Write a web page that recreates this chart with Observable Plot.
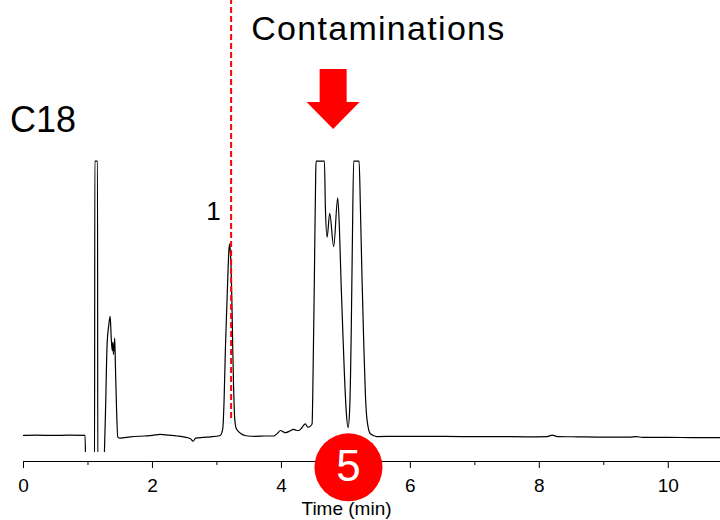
<!DOCTYPE html>
<html>
<head>
<meta charset="utf-8">
<script src="https://cdn.jsdelivr.net/npm/d3@7"></script>
<script src="https://cdn.jsdelivr.net/npm/@observablehq/plot@0.6"></script>
<style>
  html, body { margin: 0; padding: 0; background: #fff; }
</style>
</head>
<body>
<div id="chart"></div>
<script>
// C18 chromatogram: retention time (min) against detector signal (relative units).
// A reading of 99.8 is detector saturation; -15 is below the recorded range.
const time = [
  0.00, 0.20, 0.45, 0.70, 0.955, 0.967, 1.102, 1.106, 1.148, 1.152,
  1.240, 1.262, 1.271, 1.297, 1.322, 1.344, 1.360, 1.375, 1.385, 1.395,
  1.415, 1.426, 1.445, 1.462, 1.50, 1.66, 1.87, 2.00, 2.12, 2.25,
  2.38, 2.50, 2.59, 2.63, 2.67, 2.78, 2.90, 3.05, 3.09, 3.11,
  3.132, 3.155, 3.174, 3.185, 3.198, 3.21, 3.22, 3.235, 3.245, 3.258,
  3.271, 3.285, 3.302, 3.364, 3.45, 3.60, 3.75, 3.88, 3.94, 3.985,
  4.03, 4.06, 4.12, 4.19, 4.23, 4.27, 4.32, 4.37, 4.41, 4.45,
  4.476, 4.491, 4.512, 4.532, 4.538, 4.667, 4.682, 4.709, 4.749, 4.811,
  4.873, 4.899, 4.926, 4.95, 4.977, 5.008, 5.034, 5.06, 5.081, 5.101,
  5.121, 5.205, 5.225, 5.251, 5.276, 5.302, 5.329, 5.38, 5.48, 5.80,
  6.30, 6.80, 7.30, 7.80, 8.12, 8.20, 8.28, 8.60, 9.00, 9.40,
  9.50, 9.60, 10.00, 10.40, 10.81
];
const signal = [
  0.0, 0.1, 0.0, 0.1, 0.0, -15, -15, 99.8, 99.8, -15,
  -15, 0.0, 7.9, 33.4, 40.0, 43.3, 35.8, 30.9, 33.9, 29.5,
  35.4, 24.8, 8.0, -0.6, -1.0, -0.5, -0.2, 0.0, 0.4, 0.1,
  -0.2, -0.6, -1.2, -2.1, -1.0, -0.7, -0.5, 0.0, 2.4, 12.0,
  32.0, 48.0, 61.2, 67.0, 69.7, 66.0, 61.2, 45.0, 32.0, 18.0,
  7.9, 4.0, 2.4, 0.8, -0.1, -0.3, -0.2, -0.2, 0.8, 1.8,
  1.3, 1.0, 1.5, 2.2, 1.9, 1.8, 2.9, 4.2, 3.0, 3.4,
  4.2, 22.4, 58.8, 95.2, 99.8, 99.8, 83.0, 72.1, 80.8, 68.7,
  86.4, 75.7, 55.2, 39.4, 22.4, 7.9, 2.8, 10.3, 34.5, 70.9,
  99.8, 99.8, 83.0, 56.4, 34.5, 15.2, 5.5, 0.6, -0.4, -0.3,
  -0.3, -0.4, -0.4, -0.5, -0.4, 0.1, -0.4, -0.5, -0.6, -0.6,
  -0.4, -0.7, -0.7, -0.8, -0.8
];

// Axis ticks (minutes)
const labeledTicks = [0, 2, 4, 6, 8, 10];
const minorTicks = [1, 3, 5, 7, 9];
const timeDomain = [0, 10.81];
const signalDomain = [-6.2, 100];

// Annotations
const columnName = [{time: -0.21, value: 110.2, text: "C18"}];
const headline = [{time: 5.504, value: 144, text: "Contaminations"}];
const peakLabels = [{time: 2.946, value: 78.5, text: "1"}];
const markerLine = [{time: 3.22, from: 6.2, to: 158.2}];
const contaminationArrow = [{time: 4.81, top: 133.1, tip: 111.3}];
const highlightedTime = [{time: 5.04, value: -11.6, text: "5"}];
const axisTitle = [{time: 5.01, value: -29.1, text: "Time (min)"}];

const RED = "#ff0000";
const trace = time.map((t, i) => ({time: t, signal: signal[i]}));

// Solid block arrow pointing down, positioned through the plot's scales
function blockArrow(data) {
  return (index, scales) => {
    const g = d3.create("svg:g");
    for (const d of data) {
      const cx = scales.x(d.time);
      const y0 = scales.y(d.top);
      const y1 = scales.y(d.tip);
      const neck = y1 - 27;
      g.append("path")
        .attr("d", `M${cx - 13.5},${y0}H${cx + 13.5}V${neck}H${cx + 26.5}L${cx},${y1}L${cx - 26.5},${neck}H${cx - 13.5}Z`)
        .attr("fill", RED);
    }
    return g.node();
  };
}

const chart = Plot.plot({
  width: 720,
  height: 520,
  marginLeft: 23,
  marginRight: 0,
  marginTop: 160,
  marginBottom: 68,
  style: {fontFamily: "'Liberation Sans', Arial, sans-serif", background: "#fff", color: "#000", overflow: "visible"},
  x: {domain: timeDomain},
  y: {domain: signalDomain, axis: null},
  marks: [
    Plot.ruleY([signalDomain[0]], {dy: 9, stroke: "#000", strokeWidth: 1}),
    Plot.axisX({ticks: labeledTicks, tickSize: 7, tickPadding: 10, dy: 9, fontSize: 19, label: null, stroke: "#000", fill: "#000"}),
    Plot.axisX({ticks: minorTicks, tickSize: 4, dy: 9, text: null, label: null, stroke: "#000"}),
    Plot.line(trace, {x: "time", y: "signal", stroke: "#000", strokeWidth: 1.2, curve: "monotone-x", clip: true}),
    Plot.ruleX(markerLine, {x: "time", y1: "from", y2: "to", stroke: RED, strokeWidth: 2, strokeDasharray: "6,3"}),
    Plot.text(peakLabels, {x: "time", y: "value", text: "text", fontSize: 26, lineAnchor: "bottom", fill: "#000"}),
    Plot.text(columnName, {x: "time", y: "value", text: "text", fontSize: 36, textAnchor: "start", lineAnchor: "bottom", fill: "#000"}),
    Plot.text(headline, {x: "time", y: "value", text: "text", fontSize: 34, lineAnchor: "bottom", fill: "#000"}),
    blockArrow(contaminationArrow),
    Plot.dot(highlightedTime, {x: "time", y: "value", r: 34, fill: RED, stroke: null}),
    Plot.text(highlightedTime, {x: "time", y: "value", text: "text", fontSize: 44, lineAnchor: "middle", fill: "#fff"}),
    Plot.text(axisTitle, {x: "time", y: "value", text: "text", fontSize: 19, lineAnchor: "bottom", fill: "#000"})
  ]
});

d3.select(chart).selectAll("text")
  .filter(function () { return this.textContent === headline[0].text; })
  .attr("letter-spacing", "1.3px");

document.getElementById("chart").appendChild(chart);
</script>
</body>
</html>
